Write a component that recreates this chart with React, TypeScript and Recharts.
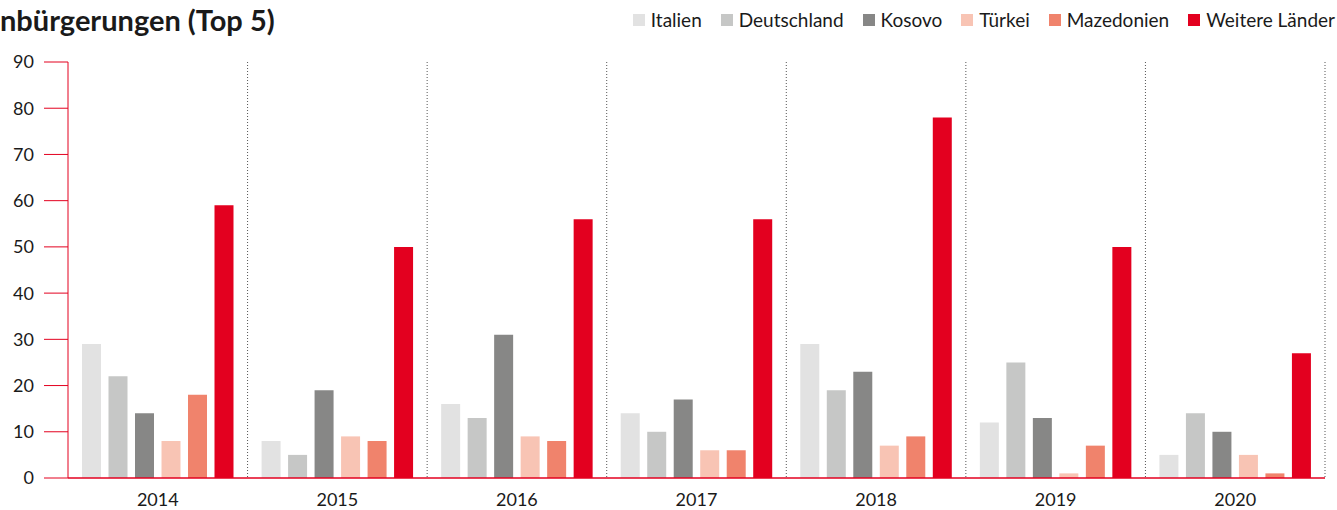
import React from 'react';
import { BarChart, Bar, XAxis, YAxis, CartesianGrid } from 'recharts';

const years = ['2014', '2015', '2016', '2017', '2018', '2019', '2020'];
const italien = [29, 8, 16, 14, 29, 12, 5];
const deutschland = [22, 5, 13, 10, 19, 25, 14];
const kosovo = [14, 19, 31, 17, 23, 13, 10];
const tuerkei = [8, 9, 9, 6, 7, 1, 5];
const mazedonien = [18, 8, 8, 6, 9, 7, 1];
const weitere = [59, 50, 56, 56, 78, 50, 27];
const yTicks = [0, 10, 20, 30, 40, 50, 60, 70, 80, 90];

const RED = '#e3001f';
const FONT = 'Lato, "Open Sans", sans-serif';

const series = [
  { key: 'italien', name: 'Italien', color: '#e2e2e2', values: italien },
  { key: 'deutschland', name: 'Deutschland', color: '#c6c7c6', values: deutschland },
  { key: 'kosovo', name: 'Kosovo', color: '#878786', values: kosovo },
  { key: 'tuerkei', name: 'Türkei', color: '#f8c4b4', values: tuerkei },
  { key: 'mazedonien', name: 'Mazedonien', color: '#f0836c', values: mazedonien },
  { key: 'weitere', name: 'Weitere Länder', color: RED, values: weitere },
];

const data = years.map((year, i) => {
  const row: Record<string, string | number> = { year };
  series.forEach((s) => {
    row[s.key] = s.values[i];
  });
  return row;
});

// dotted separators between the year groups
const separators = ({ offset }: any) => {
  const out: number[] = [];
  for (let i = 1; i <= years.length; i++) {
    out.push(offset.left + (offset.width * i) / years.length);
  }
  return out;
};

export default function App() {
  return (
    <div style={{ position: 'relative', width: 1337, height: 510, fontFamily: FONT, background: '#fff' }}>
      <style>{`body{margin:0}`}</style>
      <div style={{ position: 'absolute', left: 0, top: 2, fontSize: 29, fontWeight: 700, color: '#1a1a1a' }}>
        nbürgerungen (Top 5)
      </div>
      <div style={{ position: 'absolute', right: 2, top: 8, display: 'flex', gap: 19, fontSize: 19, color: '#1a1a1a' }}>
        {series.map((s) => (
          <div key={s.key} style={{ display: 'flex', alignItems: 'center', gap: 6 }}>
            <span style={{ display: 'inline-block', width: 12, height: 12, background: s.color }} />
            <span>{s.name}</span>
          </div>
        ))}
      </div>
      <BarChart
        width={1337}
        height={510}
        data={data}
        margin={{ top: 62, right: 12, left: 0, bottom: 0 }}
        barSize={19}
        barGap={7.5}
      >
        <CartesianGrid
          horizontal={false}
          stroke="#555"
          strokeDasharray="1 2"
          verticalCoordinatesGenerator={separators}
        />
        <XAxis
          dataKey="year"
          height={32}
          axisLine={{ stroke: RED, strokeWidth: 1.5 }}
          tickLine={false}
          tickMargin={9}
          tick={{ fill: '#1a1a1a', fontSize: 18, fontFamily: FONT }}
        />
        <YAxis
          width={68}
          domain={[0, 90]}
          ticks={yTicks}
          interval={0}
          tickSize={24}
          tickMargin={10}
          axisLine={{ stroke: RED }}
          tickLine={{ stroke: RED }}
          tick={{ fill: '#1a1a1a', fontSize: 18, fontFamily: FONT }}
        />
        {series.map((s) => (
          <Bar key={s.key} dataKey={s.key} name={s.name} fill={s.color} isAnimationActive={false} />
        ))}
      </BarChart>
    </div>
  );
}
